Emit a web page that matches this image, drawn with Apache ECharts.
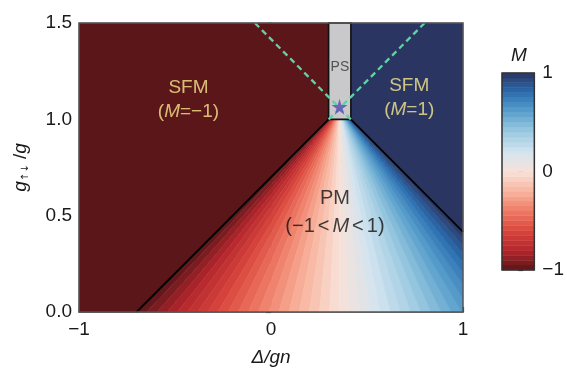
<!DOCTYPE html>
<html><head><meta charset="utf-8">
<script src="https://cdn.jsdelivr.net/npm/echarts@6/dist/echarts.min.js"></script>
<style>html,body{margin:0;padding:0;background:#fff}#c{width:567px;height:372px}</style>
</head><body><div id="c"></div>
<script>
// ---- data ----
const xTicks = [-1, 0, 1];
const yTicks = [0, 0.5, 1.0, 1.5];
const cbTicks = [-1, 0, 1];
const leftBoundary = [[-0.70, 0], [0.30, 1.0]];    // M = -1 phase boundary
const rightBoundary = [[0.416, 1.0], [1, 0.416]];  // M = +1 phase boundary
const psTop = 1.5;
const starPoint = [0.357, 1.065];
const dashLeft = [[0.416, 1.0], [-0.084, 1.5]];
const dashRight = [[0.30, 1.0], [0.80, 1.5]];
const regionM = [-1, 1];
const mLevels = [-1,-0.95,-0.9,-0.85,-0.8,-0.75,-0.7,-0.65,-0.6,-0.55,-0.5,-0.45,-0.4,-0.35,-0.3,-0.25,-0.2,-0.15,-0.1,-0.05,0,0.05,0.1,0.15,0.2,0.25,0.3,0.35,0.4,0.45,0.5,0.55,0.6,0.65,0.7,0.75,0.8,0.85,0.9,0.95,1];
const cmapColors = ['#5a1619','#b3262c','#d9463d','#ef7c66','#f8b49e','#f8e2d8','#d3e4f0','#9ccae0','#5aa1cc','#2a6db0','#2b3562'];
const labelPos = {sfmLeft: [-0.43, 1.10], sfmRight: [0.72, 1.11], pm: [0.333, 0.515], ps: [0.359, 1.27]};

// ---- helpers ----
const xMin = xTicks[0], xMax = xTicks[xTicks.length - 1];
const yMin = yTicks[0], yMax = yTicks[yTicks.length - 1];
const pmTop = leftBoundary[1][1];
function slope(a, b) { return (b[1] - a[1]) / (b[0] - a[0]); }
function xOnLine(a, b, y) { return a[0] + (y - a[1]) / slope(a, b); }
const s1 = slope(leftBoundary[0], leftBoundary[1]), s2 = slope(rightBoundary[0], rightBoundary[1]);
const ax = (rightBoundary[0][1] - leftBoundary[0][1] + s1 * leftBoundary[0][0] - s2 * rightBoundary[0][0]) / (s1 - s2);
const ay = leftBoundary[0][1] + s1 * (ax - leftBoundary[0][0]);
function xAt(m, y) {
  const xl = xOnLine(leftBoundary[0], leftBoundary[1], y);
  const xr = xOnLine(rightBoundary[0], rightBoundary[1], y);
  return xl + (m + 1) / 2 * (xr - xl);
}
function rayEnd(m) {
  const x0 = xAt(m, yMin);
  if (x0 <= xMax) return [x0, yMin, false];
  const t = (xMax - ax) / (x0 - ax);
  return [xMax, ay + t * (yMin - ay), true];
}
const minus = v => (v < 0 ? '\u2212' + Math.abs(v) : String(v));

const bands = [];
for (let i = 0; i < mLevels.length - 1; i++) {
  bands.push([(mLevels[i] + mLevels[i + 1]) / 2, mLevels[i], mLevels[i + 1]]);
}
const leftRegion = [[xMin, yMin], leftBoundary[0], leftBoundary[1], [leftBoundary[1][0], psTop], [xMin, yMax]];
const rightRegion = [[rightBoundary[0][0], psTop], rightBoundary[0], rightBoundary[1], [xMax, yMax]];
const regionPolys = [leftRegion, rightRegion];

const font = 'Liberation Sans, Arial, sans-serif';
const chart = echarts.init(document.getElementById('c'), null, {renderer: 'canvas'});
const yellow = '#f7e98c';

chart.setOption({
  animation: false,
  backgroundColor: '#fff',
  grid: [
    {left: 79, top: 23, width: 384, height: 292, show: true, borderColor: '#555', borderWidth: 1.5, backgroundColor: 'transparent', z: 10},
    {left: 502, top: 73, width: 33, height: 197, show: true, borderColor: '#333', borderWidth: 1.5, backgroundColor: 'transparent', z: 10}
  ],
  visualMap: {type: 'continuous', show: false, min: -1, max: 1, dimension: 0, seriesIndex: [0, 1, 2], inRange: {color: cmapColors}},
  xAxis: [
    {gridIndex: 0, type: 'value', min: xMin, max: xMax, interval: xTicks[1] - xTicks[0],
     axisLine: {show: true, lineStyle: {color: '#555', width: 1.5}},
     axisTick: {show: true, inside: true, length: 5, lineStyle: {color: '#333', width: 1.2}},
     axisLabel: {formatter: minus, fontSize: 19, color: '#1a1a1a', fontFamily: font, margin: 8},
     splitLine: {show: false},
     name: 'Δ/gn', nameLocation: 'middle', nameGap: 36,
     nameTextStyle: {fontSize: 19, fontStyle: 'italic', color: '#1a1a1a', fontFamily: font}},
    {gridIndex: 1, type: 'value', min: -1, max: 1, show: false}
  ],
  yAxis: [
    {gridIndex: 0, type: 'value', min: yMin, max: yMax, interval: yTicks[1] - yTicks[0],
     axisLine: {show: true, lineStyle: {color: '#555', width: 1.5}},
     axisTick: {show: true, inside: false, length: 5, lineStyle: {color: '#333', width: 1.2}},
     axisLabel: {formatter: v => v.toFixed(1), fontSize: 19, color: '#1a1a1a', fontFamily: font, margin: 7},
     splitLine: {show: false},
     name: '{i|g}{s|↑↓}{n| /}{i|g}', nameLocation: 'middle', nameRotate: 90, nameGap: 49,
     nameTextStyle: {rich: {
       i: {fontSize: 19, fontStyle: 'italic', color: '#1a1a1a', fontFamily: font},
       n: {fontSize: 19, color: '#1a1a1a', fontFamily: font},
       s: {fontSize: 10, color: '#1a1a1a', fontFamily: 'DejaVu Sans', verticalAlign: 'bottom', padding: [8, 0, 0, 0]}
     }}},
    {gridIndex: 1, type: 'value', min: cbTicks[0], max: cbTicks[cbTicks.length - 1], interval: cbTicks[1] - cbTicks[0], position: 'right',
     axisLine: {show: false},
     axisTick: {show: true, inside: false, length: 5, lineStyle: {color: '#333', width: 1.2}},
     axisLabel: {formatter: minus, fontSize: 19, color: '#1a1a1a', fontFamily: font, margin: 8},
     splitLine: {show: false}}
  ],
  series: [
    { // saturated regions
      type: 'custom', xAxisIndex: 0, yAxisIndex: 0, z: 1,
      data: regionM.map((m, i) => [m, i]),
      renderItem: (params, api) => {
        const poly = regionPolys[api.value(1)];
        const c = api.visual('color');
        return {type: 'polygon', shape: {points: poly.map(p => api.coord(p))}, style: {fill: c, stroke: c, lineWidth: 0.5}};
      }
    },
    { // PM fan bands
      type: 'custom', xAxisIndex: 0, yAxisIndex: 0, z: 2, clip: true,
      data: bands,
      renderItem: (params, api) => {
        const m1 = api.value(1), m2 = api.value(2);
        const e1 = rayEnd(m1), e2 = rayEnd(m2);
        const pts = [[xAt(m1, pmTop), pmTop], [xAt(m2, pmTop), pmTop], [e2[0], e2[1]]];
        if (e2[2] && !e1[2]) pts.push([xMax, yMin]);
        pts.push([e1[0], e1[1]]);
        const c = api.visual('color');
        return {type: 'polygon', shape: {points: pts.map(p => api.coord(p))}, style: {fill: c, stroke: c, lineWidth: 0.6}};
      }
    },
    { // colorbar bands
      type: 'custom', xAxisIndex: 1, yAxisIndex: 1, z: 2,
      data: bands,
      renderItem: (params, api) => {
        const p1 = api.coord([-1, api.value(2)]), p2 = api.coord([1, api.value(1)]);
        const c = api.visual('color');
        return {type: 'rect', shape: {x: p1[0], y: p1[1], width: p2[0] - p1[0], height: p2[1] - p1[1]}, style: {fill: c, stroke: c, lineWidth: 0.5}};
      }
    },
    { // PS region
      type: 'custom', xAxisIndex: 0, yAxisIndex: 0, z: 3,
      data: [[leftBoundary[1][0], pmTop, rightBoundary[0][0], psTop]],
      renderItem: (params, api) => {
        const a = api.coord([api.value(0), api.value(3)]), b = api.coord([api.value(2), api.value(1)]);
        return {type: 'rect', shape: {x: a[0], y: a[1], width: b[0] - a[0], height: b[1] - a[1]}, style: {fill: '#c9c9cb', stroke: '#111', lineWidth: 1.6}};
      }
    },
    {type: 'line', xAxisIndex: 0, yAxisIndex: 0, z: 4, data: leftBoundary, symbol: 'none', lineStyle: {color: '#000', width: 1.8}},
    {type: 'line', xAxisIndex: 0, yAxisIndex: 0, z: 4, data: rightBoundary, symbol: 'none', lineStyle: {color: '#000', width: 1.8}},
    {type: 'line', xAxisIndex: 0, yAxisIndex: 0, z: 5, data: dashLeft, symbol: 'none', lineStyle: {color: '#5fd2a8', width: 2.3, type: [6, 4]}},
    {type: 'line', xAxisIndex: 0, yAxisIndex: 0, z: 5, data: dashRight, symbol: 'none', lineStyle: {color: '#5fd2a8', width: 2.3, type: [6, 4]}},
    {type: 'scatter', xAxisIndex: 0, yAxisIndex: 0, z: 6, data: [starPoint],
     symbol: 'path://M50,0 L61,35 L98,35 L68,57 L79,91 L50,70 L21,91 L32,57 L2,35 L39,35 Z',
     symbolSize: 16, itemStyle: {color: '#5b4bb3'}},
    {type: 'scatter', xAxisIndex: 0, yAxisIndex: 0, z: 7, symbolSize: 0,
     label: {show: true, position: 'inside', align: 'center', verticalAlign: 'middle',
       rich: {
         y: {color: yellow, fontSize: 19, fontFamily: font, lineHeight: 24},
         yi: {color: yellow, fontSize: 19, fontFamily: font, fontStyle: 'italic', lineHeight: 24},
         k: {color: '#111', fontSize: 20, fontFamily: font, lineHeight: 28},
         ki: {color: '#111', fontSize: 20, fontFamily: font, fontStyle: 'italic', lineHeight: 28},
         lt: {color: '#111', fontSize: 20, fontFamily: font, lineHeight: 28, padding: [0, 3, 0, 3]},
         ps: {color: '#333', fontSize: 14, fontFamily: font}
       }},
     data: [
       {value: labelPos.sfmLeft, label: {formatter: '{y|SFM}\n{y|(}{yi|M}{y|=\u22121)}'}},
       {value: labelPos.sfmRight, label: {formatter: '{y|SFM}\n{y|(}{yi|M}{y|=1)}'}},
       {value: labelPos.pm, label: {formatter: '{k|PM}\n{k|(\u22121}{lt|<}{ki|M}{lt|<}{k|1)}'}},
       {value: labelPos.ps, label: {formatter: '{ps|PS}'}}
     ]}
  ],
  graphic: [
    {type: 'text', left: 511, top: 46, z: 20, style: {text: 'M', fontSize: 19, fontStyle: 'italic', fill: '#1a1a1a', fontFamily: font}}
  ]
});
</script></body></html>
